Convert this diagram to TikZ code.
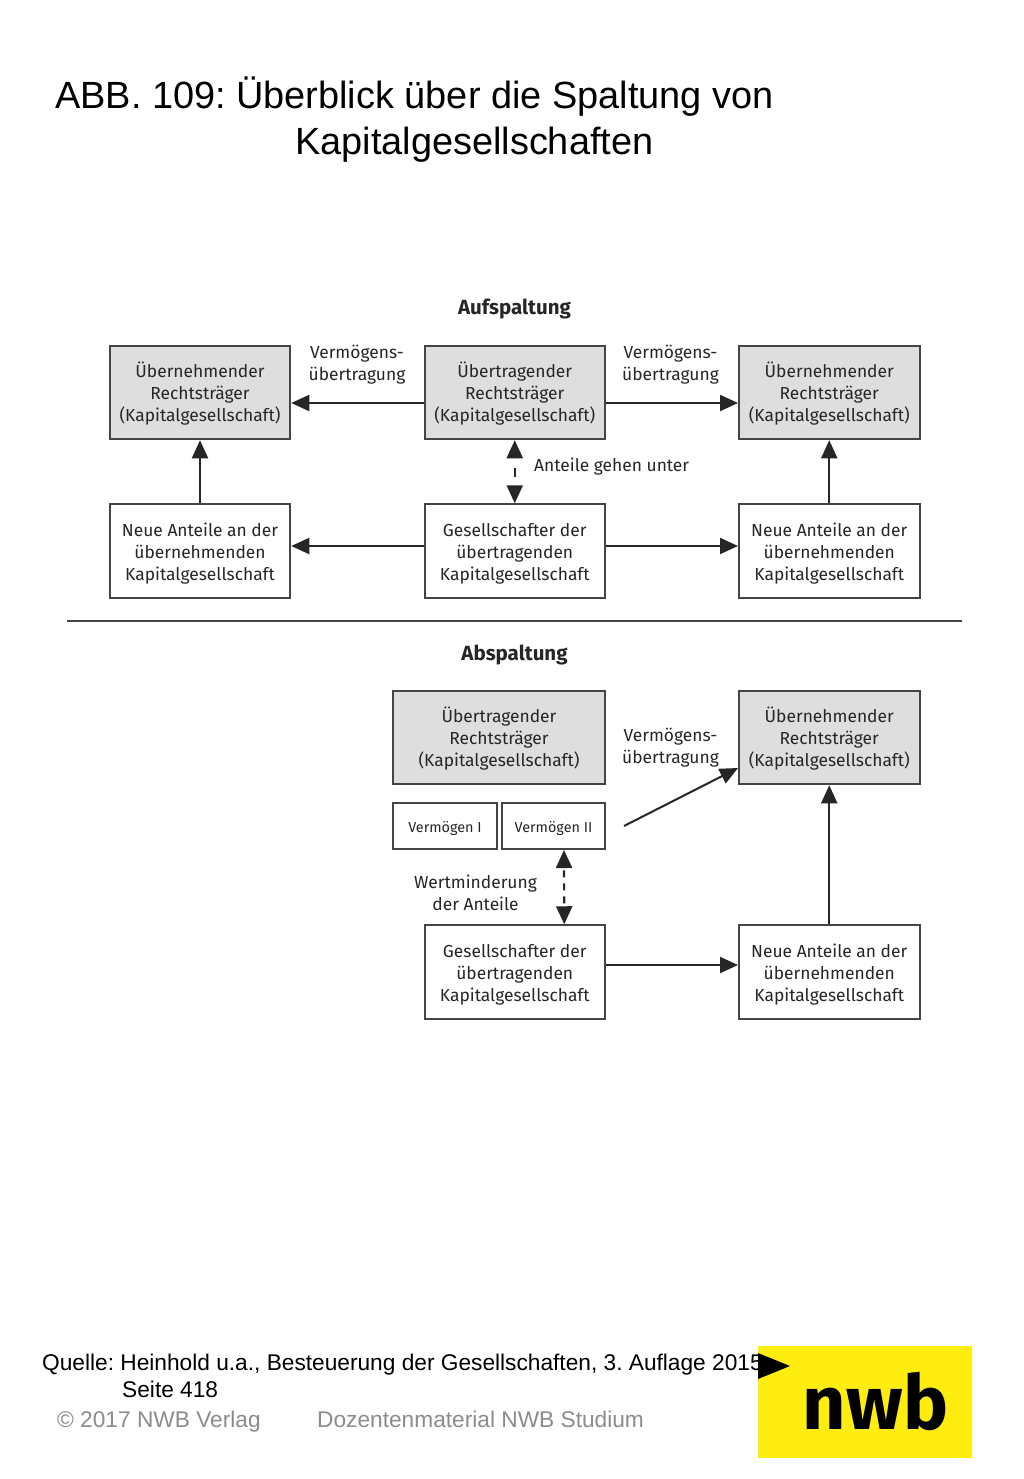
\documentclass[tikz,border=0pt]{standalone}
\usepackage{fontspec}
\setmainfont{Liberation Sans}
\newfontfamily\diag{Fira Sans}
\usetikzlibrary{arrows.meta}
\frenchspacing
\newcommand{\boxline}[1]{\raisebox{-3pt}[\height][\depth]{\strut #1}}
\newcommand{\boxtext}[3]{\raisebox{-3pt}[\height][\depth]{\begin{tabular}{@{}c@{}}#1\\#2\\#3\end{tabular}}}
\definecolor{edge}{HTML}{454545}
\definecolor{greyfill}{HTML}{DEDEDE}
\definecolor{nwbyellow}{HTML}{FFED0F}
\definecolor{footgrey}{HTML}{8C8C8C}
\tikzset{
  x=1pt,y=-1pt,
  boxbase/.style={draw=edge,line width=2pt,inner sep=0pt,font=\diag\fontsize{17.4}{22}\selectfont,text=black!85},
  plainbox/.style={boxbase,fill=white,minimum width=180.5pt,minimum height=93.5pt},
  greybox/.style={boxbase,fill=greyfill,minimum width=180.5pt,minimum height=93.5pt},
  smallbox/.style={boxbase,fill=white,minimum width=103.5pt,minimum height=46pt,font=\diag\fontsize{14.4}{18}\selectfont},
  lbl/.style={align=center,inner sep=0pt,text=black!85,font=\diag\fontsize{17.4}{22}\selectfont},
  head/.style={inner sep=0pt,text=black!85,font=\diag\bfseries\fontsize{20.5}{24}\selectfont},
  conn/.style={draw=black!85,line width=2pt,-{Triangle[length=18pt,width=16pt]}},
  dconn/.style={draw=black!85,line width=2.2pt,{Triangle[length=18pt,width=16pt]}-{Triangle[length=18pt,width=16pt]}},
  title/.style={inner sep=0pt,anchor=base west,font=\fontsize{37.9}{45}\selectfont},
  foot/.style={inner sep=0pt,anchor=base west,font=\fontsize{22.7}{27}\selectfont},
}
\begin{document}
\begin{tikzpicture}
\useasboundingbox (0,0) rectangle (1024,1479);
\fill[white] (0,0) rectangle (1024,1479);
% title
\node[title] (t1) at (55,109) {ABB. 109: Überblick über die Spaltung von};
\node[title] (t2) at (295,155) {Kapitalgesellschaften};
% Aufspaltung
\node[head] (hA) at (514.5,309) {Aufspaltung};
\node[greybox] (a1) at (200,392.5) {\boxtext{Übernehmender}{Rechtsträger}{(Kapitalgesellschaft)}};
\node[greybox] (a2) at (514.75,392.5) {\boxtext{Übertragender}{Rechtsträger}{(Kapitalgesellschaft)}};
\node[greybox] (a3) at (829.25,392.5) {\boxtext{Übernehmender}{Rechtsträger}{(Kapitalgesellschaft)}};
\node[plainbox] (b1) at (200,551) {\boxtext{Neue Anteile an der}{übernehmenden}{Kapitalgesellschaft}};
\node[plainbox] (b2) at (514.75,551) {\boxtext{Gesellschafter der}{übertragenden}{Kapitalgesellschaft}};
\node[plainbox] (b3) at (829.25,551) {\boxtext{Neue Anteile an der}{übernehmenden}{Kapitalgesellschaft}};
\node[lbl] (l1) at (357,364.5) {Vermögens-\\übertragung};
\node[lbl] (l2) at (670.5,364.5) {Vermögens-\\übertragung};
\node[lbl,anchor=west] (l3) at (534,466.5) {Anteile gehen unter};
\draw[conn] ([yshift=-10.5pt]a2.west) -- ([yshift=-10.5pt]a1.east);
\draw[conn] ([yshift=-10.5pt]a2.east) -- ([yshift=-10.5pt]a3.west);
\draw[conn] ([yshift=5pt]b2.west) -- ([yshift=5pt]b1.east);
\draw[conn] ([yshift=5pt]b2.east) -- ([yshift=5pt]b3.west);
\draw[conn] (b1.north) -- (a1.south);
\draw[conn] (b3.north) -- (a3.south);
\draw[dconn,dash pattern=on 9pt off 10pt,dash phase=9pt] (a2.south) -- (b2.north);
% divider
\coordinate (dL) at (67,621);
\coordinate (dR) at (962,621);
\draw[edge,line width=2pt] (dL) -- (dR);
% Abspaltung
\node[head] (hB) at (514.5,655) {Abspaltung};
\node[greybox,minimum width=212pt] (c1) at (499,737.5) {\boxtext{Übertragender}{Rechtsträger}{(Kapitalgesellschaft)}};
\node[greybox] (c2) at (829.25,737.5) {\boxtext{Übernehmender}{Rechtsträger}{(Kapitalgesellschaft)}};
\node[smallbox] (v1) at (445,826) {\boxline{Vermögen I}};
\node[smallbox] (v2) at (553.5,826) {\boxline{Vermögen II}};
\node[plainbox] (d1) at (514.75,972) {\boxtext{Gesellschafter der}{übertragenden}{Kapitalgesellschaft}};
\node[plainbox] (d2) at (829.25,972) {\boxtext{Neue Anteile an der}{übernehmenden}{Kapitalgesellschaft}};
\node[lbl] (l4) at (670.5,747.5) {Vermögens-\\übertragung};
\node[lbl] (l5) at (475.5,893) {Wertminderung\\der Anteile};
\coordinate (vs) at (624,826);
\draw[conn] (vs) -- ([yshift=-30.5pt]c2.west);
\draw[conn] (d2.north) -- (c2.south);
\draw[conn] ([yshift=7pt]d1.east) -- ([yshift=7pt]d2.west);
\draw[dconn,dash pattern=on 7pt off 6pt,dash phase=10pt] ([xshift=10.5pt]v2.south) -- ([xshift=49.5pt]d1.north);
% footer
\node[foot] (q1) at (42,1370.5) {Quelle: Heinhold u.a., Besteuerung der Gesellschaften, 3. Auflage 2015};
\node[foot] (q2) at (122,1397.5) {Seite 418};
\node[foot,text=footgrey] (f1) at (57,1427.5) {© 2017 NWB Verlag};
\node[foot,text=footgrey] (f2) at (317,1427.5) {Dozentenmaterial NWB Studium};
% logo
\fill[nwbyellow] (758,1346) rectangle (972,1458);
\fill[black] (758,1353) -- (790,1366) -- (758,1379) -- cycle;
\node[inner sep=0pt,anchor=base,font=\diag\bfseries\fontsize{75.5}{80}\selectfont] (nwb) at (875.5,1429) {nwb};
\end{tikzpicture}
\end{document}
